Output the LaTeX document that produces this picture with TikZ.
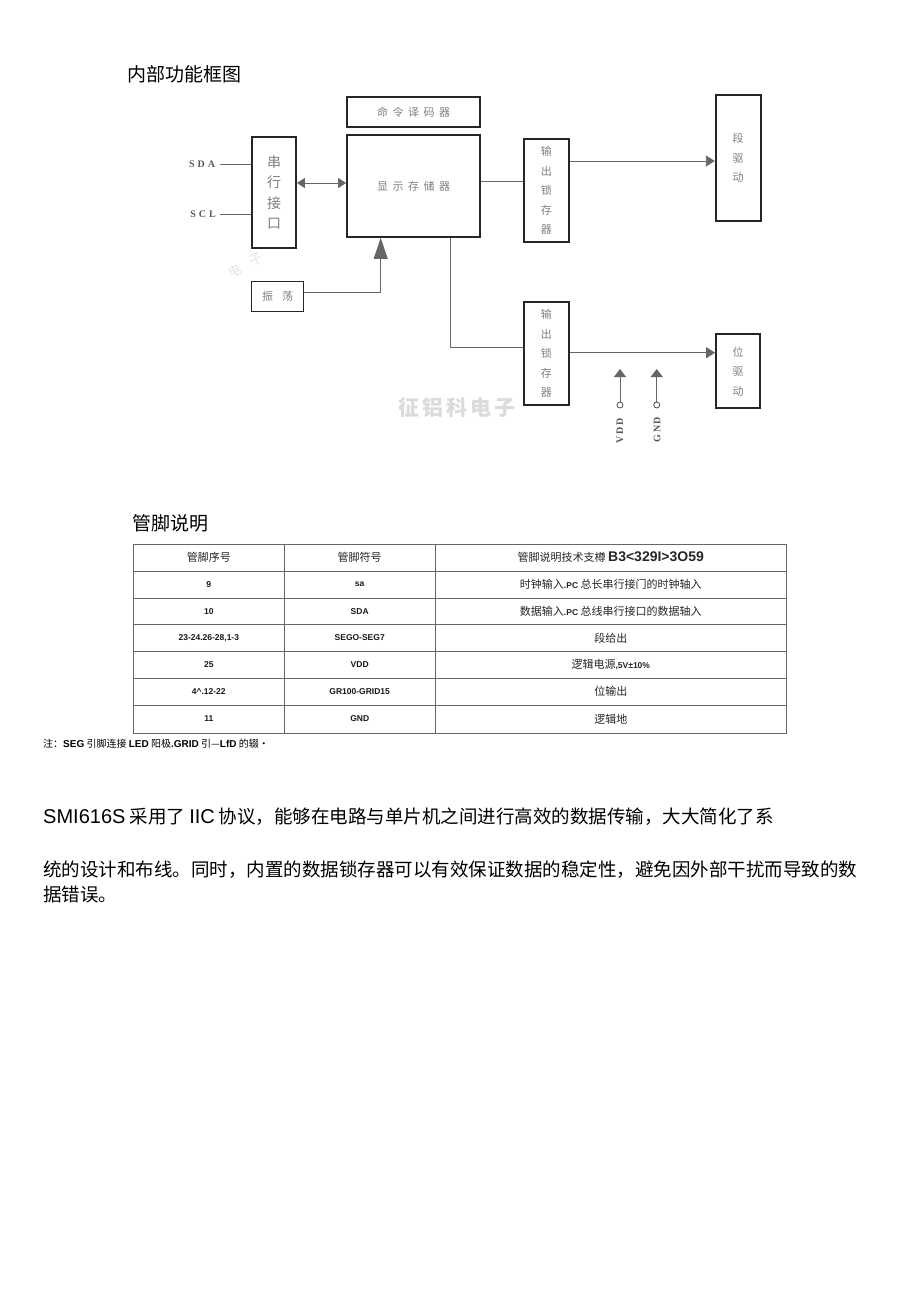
\documentclass[tikz,border=0pt]{standalone}
\usepackage{fontspec}
\setmainfont{Liberation Serif}
\newfontfamily\cjk{Noto Sans CJK SC}
\newfontfamily\arial{Liberation Sans}
\usetikzlibrary{arrows.meta}
\newcommand{\sg}{\hspace{4.5pt}}
\tikzset{
  blk/.style={draw=black!85, line width=1.8pt, inner sep=0pt, text=black!50,
    font=\cjk\fontsize{11}{19.5}\selectfont, align=center},
  conn/.style={draw=black!60, line width=0.9pt},
  tip/.style={-{Triangle[length=9pt,width=11pt]}},
  sig/.style={font=\bfseries\fontsize{10}{10}\selectfont, text=black!65, inner sep=0pt},
  pin/.style={circle, draw=black!70, line width=0.8pt, fill=white, minimum size=6pt, inner sep=0pt},
  grid/.style={draw=black!60, line width=0.9pt},
  hd/.style={font=\cjk\fontsize{11}{11}\selectfont, text=black!85},
  cell/.style={font=\arial\bfseries\fontsize{8.5}{8.5}\selectfont, text=black!90},
  ccell/.style={font=\cjk\fontsize{11}{11}\selectfont, text=black!85},
  wm/.style={font=\cjk\bfseries, text=black!14},
  wmr/.style={text=black!10, rotate=28, inner sep=0pt, font=\cjk\fontsize{13}{13}\selectfont}
}
\begin{document}
\begin{tikzpicture}[x=1pt,y=-1pt]
\fill[white] (0,0) rectangle (920,1301);
\useasboundingbox (0,0) rectangle (920,1301);

% titles
\node[anchor=west, inner sep=0pt, font=\cjk\fontsize{19}{19}\selectfont] (title1) at (127,74) {内部功能框图};

% watermarks
\node[wm, font=\cjk\bfseries\fontsize{21}{21}\selectfont] (wm1) at (457,408) {征\hspace{3pt}铝\hspace{3pt}科\hspace{3pt}电\hspace{3pt}子};
\node[wmr] (wm2) at (235,271) {电};
\node[wmr] (wm3) at (256,259) {子};

% blocks
\node[blk, minimum width=133pt, minimum height=30pt] (cmd) at (413.5,112) {命\sg 令\sg 译\sg 码\sg 器};
\node[blk, minimum width=133pt, minimum height=102pt] (mem) at (413.5,186) {显\sg 示\sg 存\sg 储\sg 器};
\node[blk, font=\cjk\fontsize{14}{20.5}\selectfont, minimum width=44pt, minimum height=111pt] (ser) at (274,192.5) {串\\行\\接\\口};
\node[blk, minimum width=52pt, minimum height=30pt] (osc) at (277.5,296.5) {振\hspace{9pt}荡};
\node[blk, minimum width=45pt, minimum height=103pt] (lat1) at (546.3,190.5) {输\\出\\锁\\存\\器};
\node[blk, minimum width=45pt, minimum height=103pt] (lat2) at (546.3,353.3) {输\\出\\锁\\存\\器};
\node[blk, minimum width=45pt, minimum height=126pt] (seg) at (738.2,158) {段\\驱\\动};
\node[blk, minimum width=44pt, minimum height=74pt] (pos) at (738,371.3) {位\\驱\\动};

% signal labels
\node[sig] (sda) at (202,164) {S\hspace{3pt}D\hspace{3pt}A};
\node[sig] (scl) at (203,214) {S\hspace{3pt}C\hspace{3pt}L};
\draw[conn] ([xshift=4.5pt]sda.east) -- (sda -| ser.west);
\draw[conn] ([xshift=4.5pt]scl.east) -- (scl -| ser.west);

% bus serial <-> memory
\coordinate (bus) at (0,183);
\draw[conn, {Triangle[length=8pt,width=10pt]}-{Triangle[length=8pt,width=10pt]}] (ser.east |- bus) -- (mem.west |- bus);

% oscillator -> memory
\coordinate (oa) at (380.7,292.3);
\draw[conn, -{Triangle[length=21pt,width=14pt]}] (osc.east |- oa) -| (mem.south -| oa);

% memory -> latches
\coordinate (m1) at (0,181.7);
\draw[conn] (mem.east |- m1) -- (lat1.west |- m1);
\coordinate (m2) at (450.7,347.7);
\draw[conn] (mem.south -| m2) |- (lat2.west |- m2);

% latches -> drivers
\coordinate (s1) at (0,161);
\draw[conn, tip] (lat1.east |- s1) -- (seg.west |- s1);
\coordinate (s2) at (0,352.7);
\draw[conn, tip] (lat2.east |- s2) -- (pos.west |- s2);

% VDD / GND
\node[pin] (vddc) at (620,405) {};
\node[pin] (gndc) at (656.7,405) {};
\coordinate (vddt) at (620,369);
\coordinate (gndt) at (656.7,369);
\draw[conn, -{Triangle[length=8pt,width=12pt]}] (vddc.north) -- (vddt);
\draw[conn, -{Triangle[length=8pt,width=12pt]}] (gndc.north) -- (gndt);
\node[sig, rotate=90] (vdd) at (620,431) {V\hspace{2pt}D\hspace{1pt}D};
\node[sig, rotate=90] (gnd) at (657,430) {G\hspace{2pt}N\hspace{1pt}D};

% pin table
\node[anchor=west, inner sep=0pt, font=\cjk\fontsize{19}{19}\selectfont] (title2) at (132,523) {管脚说明};
\draw[grid] (133.3,544) rectangle (786.7,733);
\foreach \yy in {571,598,624.5,651.5,678,705} \draw[grid] (133.3,\yy) -- (786.7,\yy);
\foreach \xx in {284.3,435} \draw[grid] (\xx,544) -- (\xx,733);

\node[hd] (h1) at (208.8,557.5) {管脚序号};
\node[hd] (h2) at (359.7,557.5) {管脚符号};
\node[hd] (h3) at (610.8,557.5) {管脚说明技术支樽 {\arial\bfseries\fontsize{14}{14}\selectfont B3<329I>3O59}};

\node[cell] (r1a) at (208.8,584.5) {9};
\node[cell] (r1b) at (359.7,584.5) {sa};
\node[ccell] (r1c) at (610.8,584.5) {时钟输入{\arial\bfseries\fontsize{8.5}{8.5}\selectfont .PC} 总长串行接门的时钟轴入};
\node[cell] (r2a) at (208.8,611.2) {10};
\node[cell] (r2b) at (359.7,611.2) {SDA};
\node[ccell] (r2c) at (610.8,611.2) {数据输入{\arial\bfseries\fontsize{8.5}{8.5}\selectfont .PC} 总线串行接口的数据轴入};
\node[cell] (r3a) at (208.8,638) {23-24.26-28,1-3};
\node[cell] (r3b) at (359.7,638) {SEGO-SEG7};
\node[ccell] (r3c) at (610.8,638) {段给出};
\node[cell] (r4a) at (208.8,664.7) {25};
\node[cell] (r4b) at (359.7,664.7) {VDD};
\node[ccell] (r4c) at (610.8,664.7) {逻辑电源{\arial\bfseries\fontsize{8.5}{8.5}\selectfont ,5V±10\%}};
\node[cell] (r5a) at (208.8,691.5) {4\textasciicircum.12-22};
\node[cell] (r5b) at (359.7,691.5) {GR100-GRID15};
\node[ccell] (r5c) at (610.8,691.5) {位输出};
\node[cell] (r6a) at (208.8,719) {11};
\node[cell] (r6b) at (359.7,719) {GND};
\node[ccell] (r6c) at (610.8,719) {逻辑地};

% note
\node[anchor=west, inner sep=0pt, font=\cjk\fontsize{10}{10}\selectfont] (note) at (43,744) {注：{\arial\bfseries SEG} 引脚连接 {\arial\bfseries LED} 阳极{\arial\bfseries .GRID} 引—{\arial\bfseries LfD} 的辍·};

% paragraph
\node[anchor=west, inner sep=0pt, font=\cjk\fontsize{18.5}{18.5}\selectfont] (p1) at (43,817) {{\arial\fontsize{20}{20}\selectfont SMI616S} 采用了 {\arial\fontsize{20}{20}\selectfont IIC} 协议，能够在电路与单片机之间进行高效的数据传输，大大简化了系};
\node[anchor=west, inner sep=0pt, font=\cjk\fontsize{18.5}{18.5}\selectfont] (p2) at (43,870) {统的设计和布线。同时，内置的数据锁存器可以有效保证数据的稳定性，避免因外部干扰而导致的数};
\node[anchor=west, inner sep=0pt, font=\cjk\fontsize{18.5}{18.5}\selectfont] (p3) at (43,894) {据错误。};
\end{tikzpicture}
\end{document}
